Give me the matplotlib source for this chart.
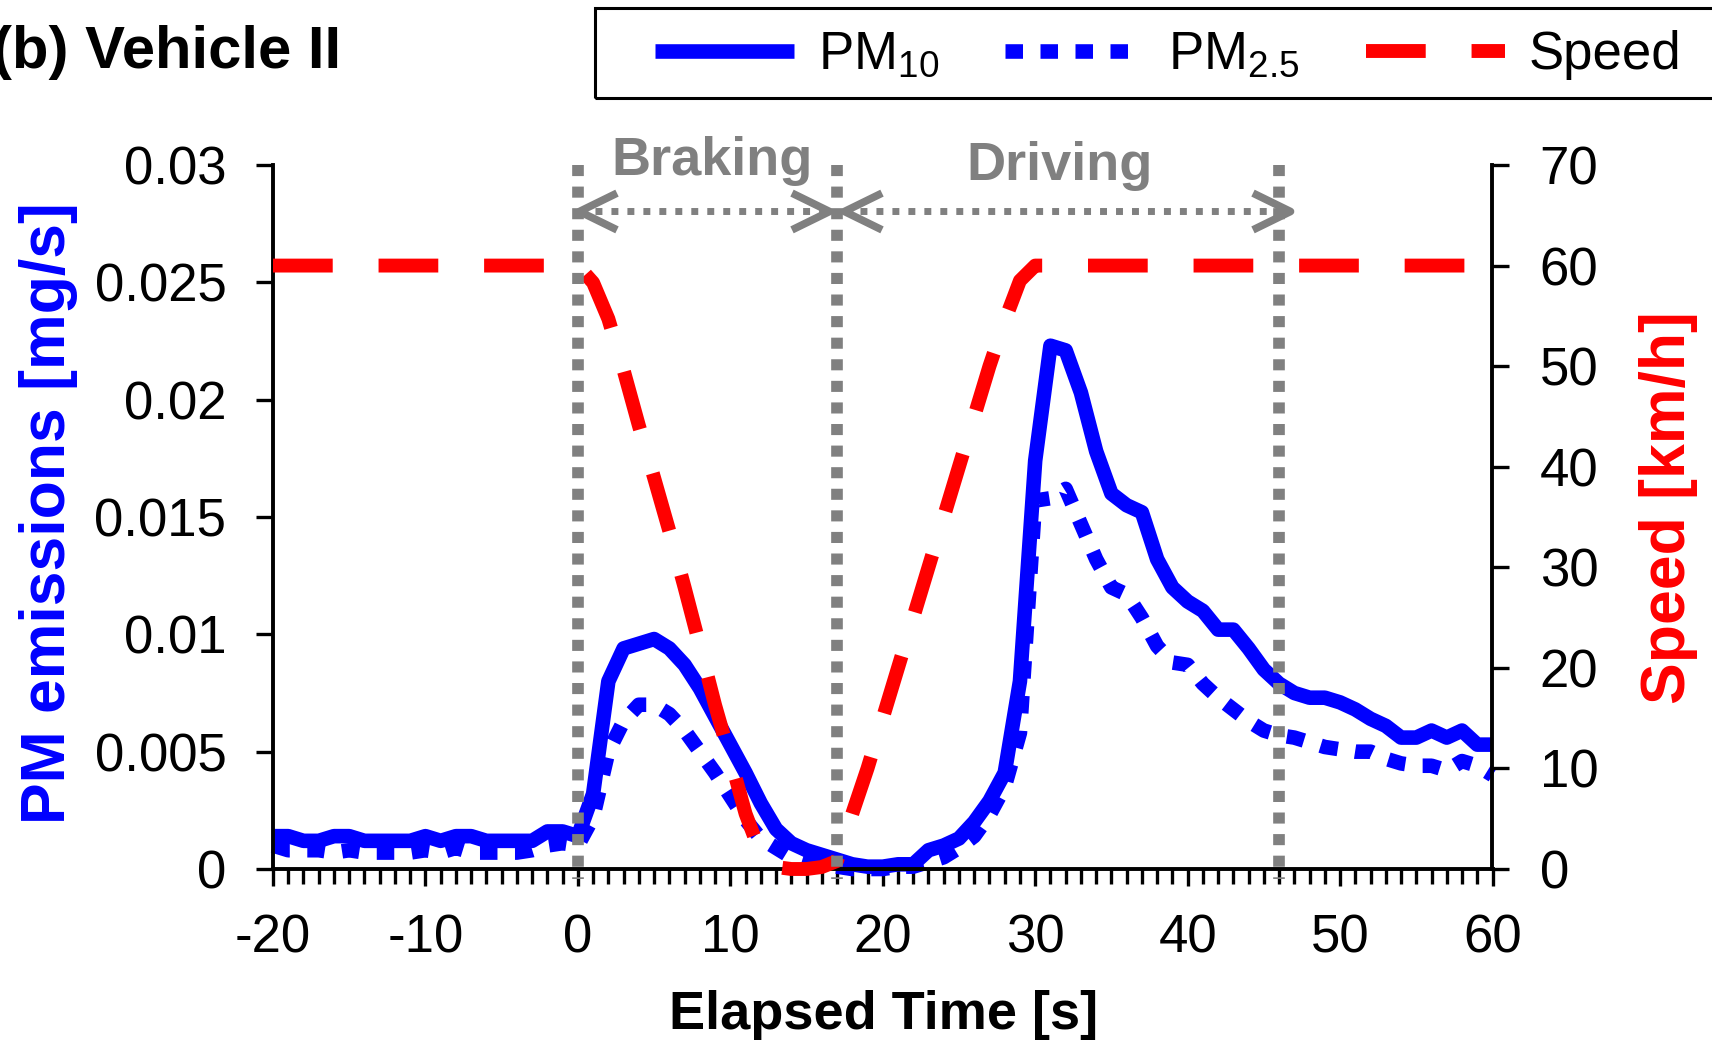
import matplotlib
matplotlib.use("Agg")
import matplotlib.pyplot as plt
from matplotlib.path import Path
from matplotlib.patches import Rectangle
from matplotlib.ticker import FixedLocator, MultipleLocator, FuncFormatter

plt.rcParams['font.family'] = ['Liberation Sans', 'DejaVu Sans']
plt.rcParams['mathtext.fontset'] = 'custom'
plt.rcParams['mathtext.rm'] = 'Liberation Sans'
plt.rcParams['mathtext.it'] = 'Liberation Sans:italic'
plt.rcParams['mathtext.bf'] = 'Liberation Sans:bold'
plt.rcParams['axes.unicode_minus'] = False

# elapsed time [s]
time = list(range(-20, 61))

# PM10 emissions [mg/s]
pm10 = [0.0014, 0.0014, 0.0012, 0.0012, 0.0014, 0.0014, 0.0012, 0.0012, 0.0012, 0.0012,
        0.0014, 0.0012, 0.0014, 0.0014, 0.0012, 0.0012, 0.0012, 0.0012, 0.0016, 0.0016,
        0.0014, 0.0032, 0.0080, 0.0094, 0.0096, 0.0098, 0.0094, 0.0087, 0.0077, 0.0065,
        0.0053, 0.0041, 0.0028, 0.0017, 0.0011, 0.0008, 0.0006, 0.0004, 0.0002, 0.0001,
        0.0001, 0.0002, 0.0002, 0.0008, 0.0010, 0.0013, 0.0020, 0.0029, 0.0041, 0.0080,
        0.0174, 0.0223, 0.0221, 0.0203, 0.0178, 0.0160, 0.0155, 0.0152, 0.0132, 0.0120,
        0.0114, 0.0110, 0.0102, 0.0102, 0.0094, 0.0085, 0.0079, 0.0075, 0.0073, 0.0073,
        0.0071, 0.0068, 0.0064, 0.0061, 0.0056, 0.0056, 0.0059, 0.0056, 0.0059, 0.0053,
        0.0053]

# PM2.5 emissions [mg/s]
pm25 = [0.0010, 0.0008, 0.0008, 0.0008, 0.0007, 0.0008, 0.0007, 0.0007, 0.0007, 0.0007,
        0.0008, 0.0007, 0.0009, 0.0007, 0.0007, 0.0007, 0.0007, 0.0008, 0.0010, 0.0011,
        0.0010, 0.0022, 0.0050, 0.0063, 0.0070, 0.0070, 0.0066, 0.0059, 0.0050, 0.0041,
        0.0031, 0.0021, 0.0013, 0.0009, 0.0005, 0.0003, 0.0002, 0.0001, 0.0000, 0.0000,
        0.0000, 0.0001, 0.0001, 0.0003, 0.0005, 0.0009, 0.0014, 0.0023, 0.0035, 0.0058,
        0.0157, 0.0158, 0.0162, 0.0147, 0.0132, 0.0120, 0.0117, 0.0107, 0.0095, 0.0088,
        0.0087, 0.0079, 0.0073, 0.0068, 0.0063, 0.0059, 0.0057, 0.0056, 0.0054, 0.0052,
        0.0051, 0.0050, 0.0050, 0.0047, 0.0045, 0.0044, 0.0044, 0.0042, 0.0046, 0.0044,
        0.0040]

# vehicle speed [km/h]
speed = [60, 60, 60, 60, 60, 60, 60, 60, 60, 60,
         60, 60, 60, 60, 60, 60, 60, 60, 60, 60,
         60, 58.3, 54.7, 49.6, 44.1, 38.9, 33.6, 28.0, 22.2, 16.3,
         11.0, 5.5, 1.5, 0.2, 0, 0, 0.2, 0.8, 5.5, 10,
         15, 20, 25, 30, 35, 40, 45, 50, 54.5, 58.5,
         60, 60, 60, 60, 60, 60, 60, 60, 60, 60,
         60, 60, 60, 60, 60, 60, 60, 60, 60, 60,
         60, 60, 60, 60, 60, 60, 60, 60, 60, 60,
         60]

# phases
phase_bounds = [0, 17, 46]
phase_names = ['Braking', 'Driving']
phase_label_x = [8.8, 31.6]
phase_label_y = [69.0, 68.5]
arrow_spans = [(0.1, 16.5), (17.45, 46.7)]
arrow_y = 65.4

pm_ticks = [0, 0.005, 0.01, 0.015, 0.02, 0.025, 0.03]
speed_ticks = [0, 10, 20, 30, 40, 50, 60, 70]

BLUE = '#0000FF'
RED = '#FF0000'
GRAY = '#808080'

W, H = 1712, 1040
fig = plt.figure(figsize=(W / 100, H / 100), dpi=100)
ax = fig.add_axes([273 / W, 1 - 869 / H, (1492.5 - 273) / W, (869 - 165) / H])
ax2 = ax.twinx()

l1, = ax.plot(time, pm10, color=BLUE, lw=10.5, solid_capstyle='butt', clip_on=False, label='PM$_{10}$')
l2, = ax.plot(time, pm25, color=BLUE, lw=10.5, dashes=(1.2, 1.2), clip_on=False, label='PM$_{2.5}$')
l3, = ax2.plot(time, speed, color=RED, lw=10, dashes=(4.3, 3.3), clip_on=False, label='Speed')

# phase markers
for b in phase_bounds:
    ax2.plot([b, b], [70, -1], color=GRAY, lw=8.4, dashes=(0.95, 0.9), clip_on=False, zorder=5)

left_head = Path([(1, 0.49), (0, 0), (1, -0.49)], [Path.MOVETO, Path.LINETO, Path.LINETO])
right_head = Path([(-1, 0.49), (0, 0), (-1, -0.49)], [Path.MOVETO, Path.LINETO, Path.LINETO])
for (x0, x1), name, tx, ty in zip(arrow_spans, phase_names, phase_label_x, phase_label_y):
    ax2.plot([x0, x1], [arrow_y, arrow_y], color=GRAY, lw=5, dashes=(1, 1.3), clip_on=False, zorder=5)
    ax2.plot([x0], [arrow_y], marker=left_head, ms=54, mfc='none', mec=GRAY, mew=5.5, clip_on=False, zorder=5)
    ax2.plot([x1], [arrow_y], marker=right_head, ms=54, mfc='none', mec=GRAY, mew=5.5, clip_on=False, zorder=5)
    ax2.text(tx, ty, name, color=GRAY, fontsize=39, fontweight='bold', ha='center', va='baseline')

ax.set_xlim(-20, 60)
ax.set_ylim(0, 0.03)
ax2.set_ylim(0, 70)
ax.xaxis.set_major_locator(MultipleLocator(10))
ax.xaxis.set_minor_locator(MultipleLocator(1))
ax.yaxis.set_major_locator(FixedLocator(pm_ticks))
ax.yaxis.set_major_formatter(FuncFormatter(lambda v, p: f'{round(v, 4):g}'))
ax2.yaxis.set_major_locator(FixedLocator(speed_ticks))

for a in (ax, ax2):
    a.spines['top'].set_visible(False)
    for s in a.spines.values():
        s.set_linewidth(2.8)
ax.spines['right'].set_visible(False)
ax2.spines['left'].set_visible(False)
ax2.spines['bottom'].set_visible(False)

ax.tick_params(axis='y', direction='out', length=12, width=2.4, labelsize=38, pad=21.5)
ax.tick_params(axis='x', which='major', direction='out', length=12, width=2.4, labelsize=38, pad=20)
ax.tick_params(axis='x', which='minor', direction='out', length=11, width=2.4)
ax2.tick_params(axis='y', direction='out', length=12, width=2.4, labelsize=38, pad=22)

# labels
fig.text(49 / W, 1 - 513 / H, 'PM emissions [mg/s]', rotation=90, ha='center', va='center',
         fontsize=45, fontweight='bold', color=BLUE)
fig.text(1668 / W, 1 - 508 / H, 'Speed [km/h]', rotation=90, ha='center', va='center',
         fontsize=45, fontweight='bold', color=RED)
fig.text(884 / W, 1 - 1015 / H, 'Elapsed Time [s]', ha='center', va='center',
         fontsize=39, fontweight='bold')
fig.text(-8 / W, 1 - 52 / H, '(b) Vehicle II', ha='left', va='center', fontsize=43, fontweight='bold')

# legend
fig.patches.append(Rectangle((595 / W, 1 - 98 / H), 1200 / W, 90 / H, transform=fig.transFigure,
                             fill=False, edgecolor='black', lw=2.2))
fig.legend(handles=[l1, l2, l3], loc='center left', bbox_to_anchor=(655 / W, 1 - 55 / H),
           ncol=3, frameon=False, fontsize=38, handlelength=2.64, handletextpad=0.45,
           columnspacing=1.25, borderpad=0, borderaxespad=0)

fig.savefig('out.png', dpi=100)
